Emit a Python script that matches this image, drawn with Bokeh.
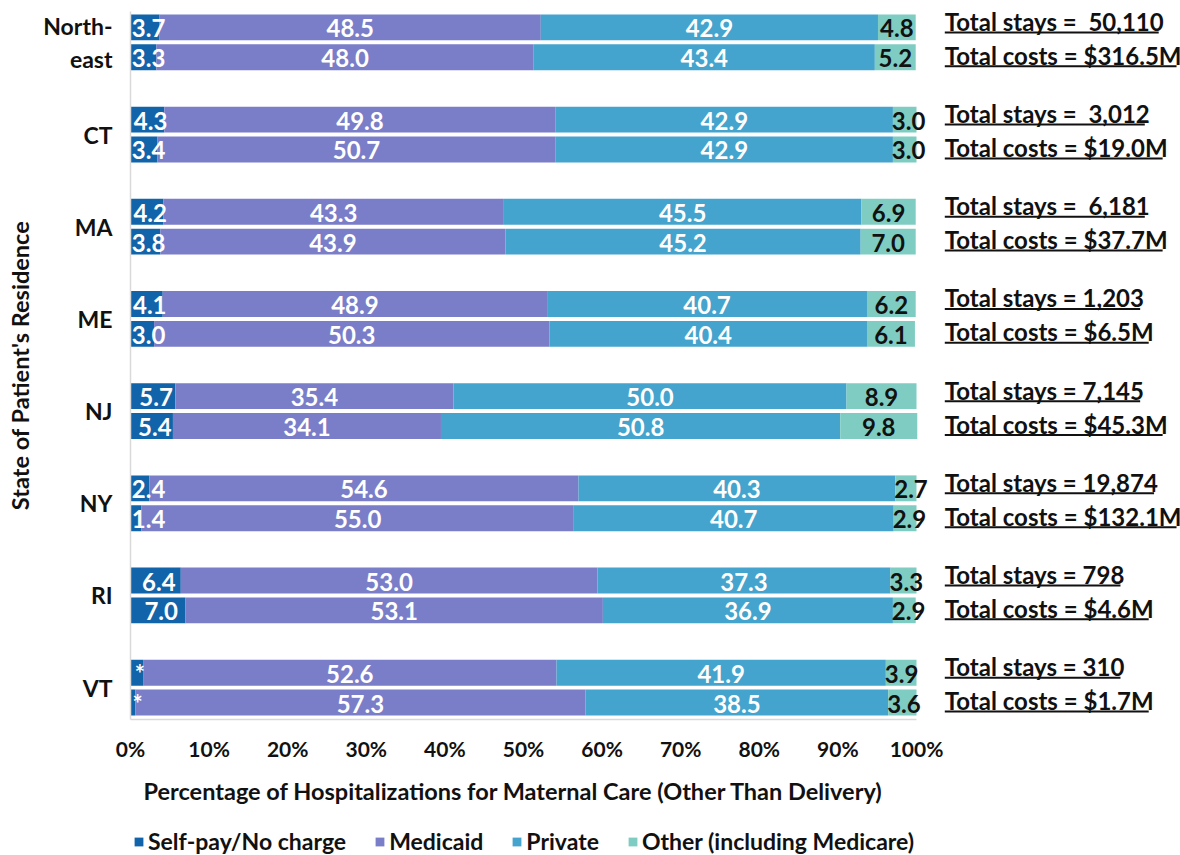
from bokeh.plotting import figure
from bokeh.models import Range1d, FixedTicker, PrintfTickFormatter, Legend, LegendItem, Title
from bokeh.layouts import column
from bokeh.embed import file_html
from bokeh.resources import INLINE
from bokeh.core.properties import value

# ---------------- data ----------------
states = ["North-\neast", "CT", "MA", "ME", "NJ", "NY", "RI", "VT"]
series = ["Self-pay/No charge", "Medicaid", "Private", "Other (including Medicare)"]

selfpay_stays = [3.7, 4.3, 4.2, 4.1, 5.7, 2.4, 6.4, 1.6]
medicaid_stays = [48.5, 49.8, 43.3, 48.9, 35.4, 54.6, 53.0, 52.6]
private_stays = [42.9, 42.9, 45.5, 40.7, 50.0, 40.3, 37.3, 41.9]
other_stays = [4.8, 3.0, 6.9, 6.2, 8.9, 2.7, 3.3, 3.9]

selfpay_costs = [3.3, 3.4, 3.8, 3.0, 5.4, 1.4, 7.0, 0.6]
medicaid_costs = [48.0, 50.7, 43.9, 50.3, 34.1, 55.0, 53.1, 57.3]
private_costs = [43.4, 42.9, 45.2, 40.4, 50.8, 40.7, 36.9, 38.5]
other_costs = [5.2, 3.0, 7.0, 6.1, 9.8, 2.9, 2.9, 3.6]

NB = "\u00a0"  # keeps the double space of the original
stays_totals = ["Total stays =" + NB + " 50,110", "Total stays =" + NB + " 3,012",
                "Total stays =" + NB + " 6,181", "Total stays = 1,203", "Total stays = 7,145",
                "Total stays = 19,874", "Total stays = 798", "Total stays = 310"]
costs_totals = ["Total costs = $316.5M", "Total costs = $19.0M", "Total costs = $37.7M",
                "Total costs = $6.5M", "Total costs = $45.3M", "Total costs = $132.1M",
                "Total costs = $4.6M", "Total costs = $1.7M"]

suppressed_selfpay = ["VT"]  # shown as "*"
x_ticks = [0, 10, 20, 30, 40, 50, 60, 70, 80, 90, 100]
x_title = "Percentage of Hospitalizations for Maternal Care (Other Than Delivery)"
y_title = "State of Patient's Residence"

# ---------------- styles ----------------
FONT = "Lato"
INK = "#111111"
colors = ["#1164A9", "#7A7EC8", "#44A4CD", "#7FCDC2"]
label_colors = ["#FFFFFF", "#FFFFFF", "#FFFFFF", INK]
GROUP_PITCH = 3.086
BAR_H = 0.867
W, H, LEG_H = 1180, 815, 40
LEFT, TOP, BOTTOM = 130, 11, 93
PX_PER_PCT = 7.86
PX_PER_ROW = 30.0
X_END = (W - LEFT) / PX_PER_PCT
TOT_X = 103.6
TOT_SIZE = 24
STAYS_DY, COSTS_DY = -6, -2     # px, text shift of the two total lines
UNDER_DY = 11                   # px, underline below text centre

# interleave stays / costs bars
stays = [selfpay_stays, medicaid_stays, private_stays, other_stays]
costs = [selfpay_costs, medicaid_costs, private_costs, other_costs]
ys, bar_state, bar_kind = [], [], []
vals = [[] for _ in series]
for g, st in enumerate(states):
    for j, src in enumerate((stays, costs)):
        ys.append(g * GROUP_PITCH + j)
        bar_state.append(st)
        bar_kind.append(j)
        for k in range(len(series)):
            vals[k].append(src[k][g])

y_top = -0.533
y_bot = (len(states) - 1) * GROUP_PITCH + 1 + 0.567

p = figure(width=W, height=H, x_range=Range1d(0, X_END), y_range=Range1d(y_bot, y_top),
           output_backend="svg", toolbar_location=None,
           min_border_top=TOP, min_border_bottom=BOTTOM, min_border_left=LEFT, min_border_right=0)
p.outline_line_color = None
p.xgrid.visible = False
p.ygrid.visible = False
p.background_fill_color = "white"

# bars first
left = [0.0] * len(ys)
lefts, rights = [], []
for k, name in enumerate(series):
    right = [l + v for l, v in zip(left, vals[k])]
    p.hbar(y=ys, left=left, right=right, height=BAR_H, fill_color=colors[k], line_color=None)
    lefts.append(left)
    rights.append(right)
    left = right

# then value labels
for k in range(len(series)):
    mids = [(l + r) / 2 for l, r in zip(lefts[k], rights[k])]
    if k == 0:
        labels = ["*" if s in suppressed_selfpay else f"{v:.1f}" for s, v in zip(bar_state, vals[k])]
        xs = [max(m + 0.4, len(t) * 0.7 + 0.2) for m, t in zip(mids, labels)]
    else:
        labels = [f"{v:.1f}" for v in vals[k]]
        if k == len(series) - 1:
            xs = [max(m, l + 2.0) for m, l in zip(mids, lefts[k])]
        else:
            xs = mids
    p.text(x=xs, y=ys, text=labels, text_align="center", text_baseline="middle",
           text_font=value(FONT), text_font_style="bold", text_font_size="24px",
           text_color=label_colors[k], y_offset=1)

# ---------------- right-hand totals ----------------
CHAR_EM = {" ": 0.193, NB: 0.193, "T": 0.598, "o": 0.555, "t": 0.356, "a": 0.488, "l": 0.239,
           "s": 0.413, "y": 0.515, "c": 0.454, "=": 0.58, "$": 0.58, "M": 0.93,
           ",": 0.24, ".": 0.24}


def text_width(t):
    return sum(CHAR_EM.get(ch, 0.58) for ch in t) * TOT_SIZE / PX_PER_PCT


for kind, texts, dy in ((0, stays_totals, STAYS_DY), (1, costs_totals, COSTS_DY)):
    yk = [y for y, kd in zip(ys, bar_kind) if kd == kind]
    p.text(x=[TOT_X] * len(yk), y=yk, text=texts, text_align="left", text_baseline="middle",
           text_font=value(FONT), text_font_style="bold", text_font_size=f"{TOT_SIZE}px",
           text_color=INK, y_offset=dy)
    yu = [y + (dy + UNDER_DY) / PX_PER_ROW for y in yk]
    p.segment(x0=[TOT_X] * len(yk), x1=[TOT_X + text_width(t) for t in texts],
              y0=yu, y1=yu, line_color=INK, line_width=2)

# ---------------- axes ----------------
centers = [round(g * GROUP_PITCH + 0.5, 4) for g in range(len(states))]
p.yaxis.ticker = FixedTicker(ticks=centers)
p.yaxis.major_label_overrides = {c: s for c, s in zip(centers, states)}
p.yaxis.major_label_text_font = FONT
p.yaxis.major_label_text_font_style = "bold"
p.yaxis.major_label_text_font_size = "23px"
p.yaxis.major_label_text_color = INK
p.yaxis.major_label_standoff = 12
p.yaxis.major_tick_line_color = None
p.yaxis.minor_tick_line_color = None
p.yaxis.axis_line_color = "#D9D9D9"
p.yaxis.axis_line_width = 1.5
p.yaxis.axis_label = y_title
p.yaxis.axis_label_text_font = FONT
p.yaxis.axis_label_text_font_style = "bold"
p.yaxis.axis_label_text_font_size = "23.5px"
p.yaxis.axis_label_text_color = INK
p.yaxis.axis_label_standoff = 6

p.xaxis.ticker = FixedTicker(ticks=x_ticks)
p.xaxis.bounds = (0, 100)
p.xaxis.formatter = PrintfTickFormatter(format="%d%%")
p.xaxis.major_label_text_font = FONT
p.xaxis.major_label_text_font_style = "bold"
p.xaxis.major_label_text_font_size = "21px"
p.xaxis.major_label_text_color = INK
p.xaxis.major_label_standoff = 10
p.xaxis.major_tick_line_color = None
p.xaxis.minor_tick_line_color = None
p.xaxis.axis_line_color = "#D9D9D9"
p.xaxis.axis_line_width = 1.5

p.add_layout(Title(text=x_title, align="left", offset=13, standoff=22,
                   text_font=FONT, text_font_style="bold", text_font_size="23.5px",
                   text_color=INK), "below")

# ---------------- legend (own strip under the chart) ----------------
# key renderers carry the series colours; their data lie far outside this strip's ranges
pl = figure(width=W, height=LEG_H, x_range=Range1d(500, 501), y_range=Range1d(500, 501),
            output_backend="svg", toolbar_location=None,
            x_axis_location=None, y_axis_location=None,
            min_border_top=9, min_border_bottom=0, min_border_left=LEFT, min_border_right=0)
pl.outline_line_color = None
pl.xgrid.visible = False
pl.ygrid.visible = False
keys = [pl.hbar(y=ys, left=lefts[k], right=rights[k], height=0,
                fill_color=colors[k], line_color=None) for k in range(len(series))]
legend = Legend(items=[LegendItem(label=s, renderers=[r]) for s, r in zip(series, keys)],
                orientation="horizontal", location="top_left",
                label_text_font=FONT, label_text_font_style="bold", label_text_font_size="23px",
                label_text_color=INK, glyph_width=11, glyph_height=11,
                label_standoff=4, spacing=28, padding=0, margin=3,
                border_line_color=None, background_fill_alpha=0)
pl.add_layout(legend, "center")

open("out.html", "w").write(file_html(column(p, pl), INLINE))
